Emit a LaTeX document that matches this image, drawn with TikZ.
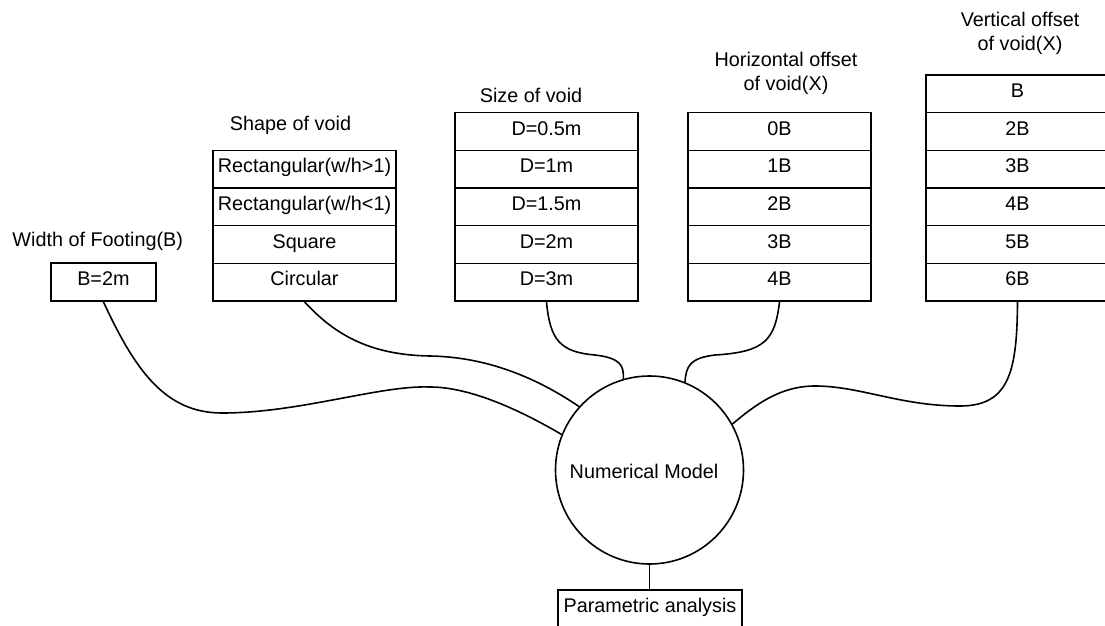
\documentclass[tikz,border=0pt]{standalone}
\usepackage{fontspec}
\setmainfont{Liberation Sans}
\begin{document}
\begin{tikzpicture}[x=1pt,y=-1pt,
  every node/.style={font=\fontsize{19.8}{23.3}\selectfont},
  cell/.style={draw, line width=1.6pt, minimum width=183pt, minimum height=37.67pt, inner sep=0pt, text height=0.9em, text depth=0.2em},
  lbl/.style={align=center, inner sep=0pt},
  link/.style={line width=1.6pt}]
\useasboundingbox (0,0) rectangle (1105,626);

% Width of footing
\node[lbl] (footlbl) at (97.7,241.7) {Width of Footing(B)};
\node[cell, minimum width=104.7pt, minimum height=38pt] (b) at (103.4,282) {B=2m};

% Shape of void
\node[lbl] (shapelbl) at (290.5,125) {Shape of void};
\node[cell] (shape1) at (304.5,169.2) {Rectangular(w/h>1)};
\node[cell] (shape2) at (304.5,206.8) {Rectangular(w/h<1)};
\node[cell] (shape3) at (304.5,244.5) {Square};
\node[cell] (shape4) at (304.5,282.2) {Circular};

% Size of void
\node[lbl] (sizelbl) at (531,95) {Size of void};
\node[cell] (size1) at (546.5,131.5) {D=0.5m};
\node[cell] (size2) at (546.5,169.2) {D=1m};
\node[cell] (size3) at (546.5,206.8) {D=1.5m};
\node[cell] (size4) at (546.5,244.5) {D=2m};
\node[cell] (size5) at (546.5,282.2) {D=3m};

% Horizontal offset
\node[lbl] (horlbl) at (786,73.3) {Horizontal offset\\of void(X)};
\node[cell] (hor1) at (779.5,131.5) {0B};
\node[cell] (hor2) at (779.5,169.2) {1B};
\node[cell] (hor3) at (779.5,206.8) {2B};
\node[cell] (hor4) at (779.5,244.5) {3B};
\node[cell] (hor5) at (779.5,282.2) {4B};

% Vertical offset
\node[lbl] (verlbl) at (1020,33.4) {Vertical offset\\of void(X)};
\node[cell] (ver1) at (1017.5,93.8) {B};
\node[cell] (ver2) at (1017.5,131.5) {2B};
\node[cell] (ver3) at (1017.5,169.2) {3B};
\node[cell] (ver4) at (1017.5,206.8) {4B};
\node[cell] (ver5) at (1017.5,244.5) {5B};
\node[cell] (ver6) at (1017.5,282.2) {6B};

% Numerical model
\node[draw, circle, line width=1.6pt, minimum size=188pt, inner sep=0pt] (nm) at (649.5,470) {};
\node[lbl] (nmtext) at (644,471) {Numerical Model};

% Parametric analysis
\node[cell, minimum width=183.7pt] (pa) at (650,608.8) {Parametric analysis};

% Connectors
\draw[link] (b.south) .. controls (135,370) and (165,413) .. (222,413)
  .. controls (300,413) and (380,385) .. (430,387)
  .. controls (470,387) and (520,410) .. (nm.158);
\draw[link] (shape4.south) .. controls (335,335) and (370,355) .. (430,356)
  .. controls (490,357) and (540,380) .. (nm.138);
\draw[link] (size5.south) .. controls (550,340) and (560,352) .. (595,355)
  .. controls (620,358) and (624,365) .. (nm.106);
\draw[link] (hor5.south) .. controls (775,340) and (765,352) .. (715,355)
  .. controls (690,358) and (686,366) .. (nm.68);
\draw[link] (ver6.south) .. controls (1017,370) and (1010,406) .. (960,406)
  .. controls (900,406) and (860,386) .. (815,386)
  .. controls (780,386) and (755,405) .. (nm.29);
\draw[link] (nm.south) -- (nm.south |- pa.north);
\end{tikzpicture}
\end{document}
